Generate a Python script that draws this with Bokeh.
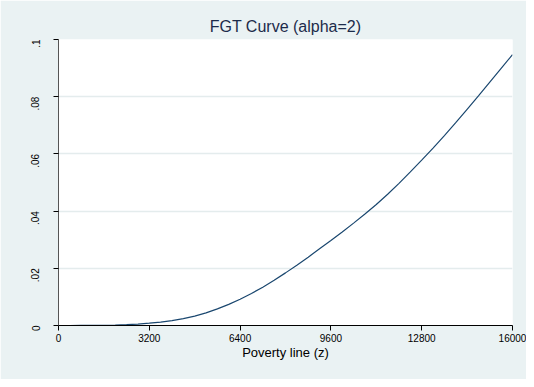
from bokeh.plotting import figure
from bokeh.models import FixedTicker, CustomJSTickFormatter, Range1d
from bokeh.embed import file_html
from bokeh.resources import INLINE

# Data
poverty_line = [0, 400, 800, 1200, 1600, 2000, 2400, 2800, 3200, 3600, 4000, 4400,
                4800, 5200, 5600, 6000, 6400, 6800, 7200, 7600, 8000, 8400, 8800,
                9200, 9600, 10000, 10400, 10800, 11200, 11600, 12000, 12400, 12800,
                13200, 13600, 14000, 14400, 14800, 15200, 15600, 16000]
fgt_alpha2 = [0.0, 0.000002, 0.00001, 0.00004, 0.00009, 0.00018, 0.0003, 0.0005,
              0.0008, 0.0012, 0.0017, 0.0024, 0.0033, 0.0044, 0.0058, 0.0074,
              0.0092, 0.0112, 0.0134, 0.0158, 0.0184, 0.0211, 0.0239, 0.0268,
              0.0297, 0.0327, 0.0358, 0.0390, 0.0423, 0.0459, 0.0497, 0.0537,
              0.0578, 0.0620, 0.0664, 0.0709, 0.0756, 0.0803, 0.0851, 0.0899, 0.0947]
x_ticks = [0, 3200, 6400, 9600, 12800, 16000]
y_ticks = [0, 0.02, 0.04, 0.06, 0.08, 0.1]

BG = "#eaf2f3"

p = figure(width=526, height=379, output_backend="svg", toolbar_location=None,
           x_range=Range1d(0, 16000), y_range=Range1d(0, 0.1),
           min_border_left=58, min_border_right=14, min_border_top=39, min_border_bottom=54,
           title="FGT Curve (alpha=2)")

p.line(poverty_line, fgt_alpha2, line_color="#1a476f", line_width=1.2)

p.background_fill_color = "white"
p.border_fill_color = BG
p.outline_line_color = None

p.title.align = "center"
p.title.offset = -6
p.title.text_font = "Liberation Sans"
p.title.text_font_size = "16px"
p.title.text_font_style = "normal"
p.title.text_color = "#1c2b4a"

p.xgrid.grid_line_color = None
p.ygrid.grid_line_color = "#e4eced"
p.ygrid.grid_line_width = 1.5

p.xaxis.ticker = FixedTicker(ticks=x_ticks)
p.yaxis.ticker = FixedTicker(ticks=y_ticks)
p.yaxis.formatter = CustomJSTickFormatter(code="""
var s = (Math.round(tick*100)/100).toString();
return s.replace(/^0\\./, '.');
""")

for ax in (p.xaxis, p.yaxis):
    ax.major_label_text_font = "Liberation Sans"
    ax.major_label_text_font_size = "10px"
    ax.major_label_text_color = "black"
    ax.major_tick_out = 5
    ax.major_tick_in = 0
    ax.minor_tick_out = 0
    ax.minor_tick_in = 0
    ax.major_tick_line_color = "black"

p.xaxis.axis_line_color = "black"
p.yaxis.axis_line_color = "#555555"
p.xaxis.major_label_standoff = 3
p.yaxis.major_label_standoff = 18
p.yaxis.major_label_orientation = 1.5708

p.xaxis.axis_label = "Poverty line (z)"
p.xaxis.axis_label_text_font = "Liberation Sans"
p.xaxis.axis_label_text_font_size = "13px"
p.xaxis.axis_label_text_font_style = "normal"
p.xaxis.axis_label_text_color = "black"
p.xaxis.axis_label_standoff = 0

open("out.html", "w").write(file_html(p, INLINE))
